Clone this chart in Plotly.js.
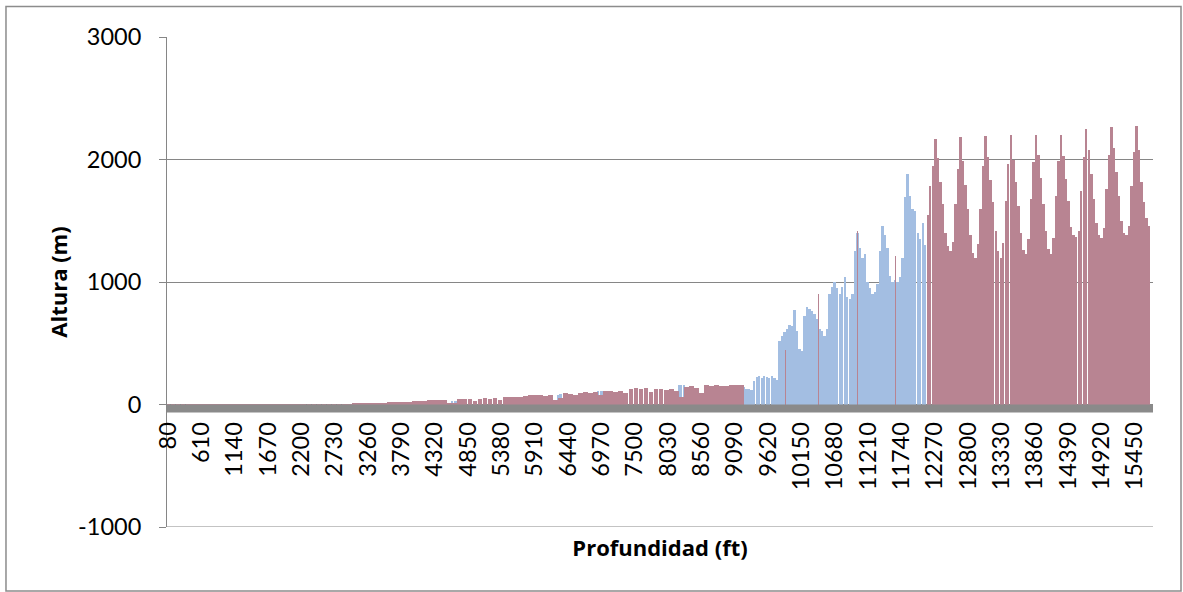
<!DOCTYPE html>
<html>
<head>
<meta charset="utf-8">
<script src="https://cdn.plot.ly/plotly-3.0.1.min.js"></script>
<style>
html,body{margin:0;padding:0;background:#fff;}
#chart{width:1183px;height:592px;}
</style>
</head>
<body>
<div id="chart"></div>
<script>
// ---------- DATA ----------
// Tick labels on the depth axis (ft)
var depthTicks = [80,610,1140,1670,2200,2730,3260,3790,4320,4850,5380,5910,6440,6970,7500,8030,8560,9090,9620,10150,10680,11210,11740,12270,12800,13330,13860,14390,14920,15450];
// Tick labels on the height axis (m)
var heightTicks = [-1000,0,1000,2000,3000];

// Red series, shallow part: depths 80..9200 every 80 ft
var redLowStart = 80, redLowStep = 80;
var redLowVals = [1,2,1,1,2,3,2,1,2,2,3,2,1,2,3,2,2,3,2,3,3,
  3,4,3,4,5,4,5,4,6,5,6,5,
  6,7,8,7,10,9,12,11,14,13,16,18,17,20,24,22,26,25,
  32,35,33,36,38,10,12,42,46,44,30,48,50,46,52,35,60,62,58,64,
  70,76,74,78,72,80,40,50,92,88,75,98,102,96,104,80,108,112,106,114,
  95,128,132,126,134,100,124,130,122,128,110,60,140,148,136,95,158,152,160,155,150,162,156,160];

// Blue series where it shows in the shallow part
var blueLowDepths = [4600,4640,4680,6280,6320,6920,6960,7000,8200,8240,8280,9240,9280,9320,9360];
var blueLowVals   = [26,30,28,78,82,108,112,110,158,162,160,140,130,125,120];

// Blue series, middle part: depths 9400..12200 every 40 ft
var blueMidStart = 9400, blueMidStep = 40;
var blueMidVals = [190,225,235,220,230,225,215,230,220,200,
  520,560,590,620,650,640,770,600,450,440,
  720,800,780,760,740,700,620,600,560,620,
  900,960,1000,950,900,960,1040,880,860,900,
  1250,1400,1280,1200,1230,1000,950,900,920,980,
  1250,1460,1380,1280,1050,1000,1020,1000,1040,1200,
  1690,1880,1700,1600,1580,1400,1350,1480,1300,1280,1400];

// Red bars that rise above the blue in the middle part
var redMidDepths = [9900,10430,11050,11640];
var redMidVals   = [445,900,1420,1210];

// Red series, deep part: depths 12160..15680 every 40 ft
var redHighStart = 12160, redHighStep = 40;
var redHighVals = [1550,1780,1950,2171,
  2010,1820,1640,1400,1290,1250,1330,1640,1920,2180,
  1990,1790,1600,1380,1240,1200,1310,1600,1950,2190,
  2020,1830,1650,1420,1250,1200,1320,1660,1960,2196,
  2000,1820,1620,1400,1260,1230,1350,1680,1980,2200,
  2040,1850,1640,1420,1270,1230,1360,1700,1990,2200,
  2030,1840,1660,1450,1380,1366,1420,1740,2020,2245,
  2080,1880,1680,1480,1380,1360,1440,1760,2040,2264,
  2090,1900,1700,1500,1400,1380,1460,1780,2060,2272,
  2080,1820,1650,1520,1460];

// ---------- BUILD ----------
function seq(start, step, n){ var a=[]; for(var i=0;i<n;i++){a.push(start+i*step);} return a; }

var blueColor = 'rgb(163,190,226)';
var redColor  = 'rgb(184,132,146)';

var traces = [
  {type:'bar', x: blueLowDepths, y: blueLowVals, width: 38, marker:{color:blueColor, line:{width:0}}, showlegend:false},
  {type:'bar', x: seq(blueMidStart, blueMidStep, blueMidVals.length), y: blueMidVals, width: 38, marker:{color:blueColor, line:{width:0}}, showlegend:false},
  {type:'bar', x: seq(redLowStart, redLowStep, redLowVals.length), y: redLowVals, width: 76, marker:{color:redColor, line:{width:0}}, showlegend:false},
  {type:'bar', x: redMidDepths, y: redMidVals, width: 16, marker:{color:redColor, line:{width:0}}, showlegend:false},
  {type:'bar', x: seq(redHighStart, redHighStep, redHighVals.length), y: redHighVals, width: 38, marker:{color:redColor, line:{width:0}}, showlegend:false}
];

var tickFam = 'Lato, "Open Sans", sans-serif';
var titleFam = '"Open Sans", Lato, sans-serif';
var gridC = '#868686';

var layout = {
  width:1183, height:592,
  margin:{l:167, r:30, t:37, b:65, pad:0},
  paper_bgcolor:'#ffffff', plot_bgcolor:'#ffffff',
  barmode:'overlay', bargap:0,
  showlegend:false,
  font:{family:tickFam, color:'#000', size:23},
  xaxis:{
    type:'linear', range:[64,15741],
    anchor:'free', position:0.25,
    showgrid:false, zeroline:false, showline:false,
    ticks:'', tickmode:'array', tickvals: depthTicks, ticktext: depthTicks.map(String),
    tickangle:-90, tickfont:{family:tickFam, size:23.5, color:'#000'},
    ticklabelstandoff: 12,
    title:{text:'Profundidad (ft)', font:{family:titleFam, size:22, color:'#000', weight:'bold'}, standoff:51}
  },
  yaxis:{
    range:[-1000,3000], tickmode:'array', tickvals: heightTicks, ticktext: heightTicks.map(String),
    showgrid:true, gridcolor:gridC, gridwidth:1,
    zeroline:false,
    showline:true, linecolor:gridC, linewidth:1,
    ticks:'outside', ticklen:7, tickcolor:gridC, tickwidth:1,
    tickfont:{family:tickFam, size:23.5, color:'#000'},
    ticklabelstandoff: 13,
    title:{text:'Altura (m)', font:{family:titleFam, size:22, color:'#000', weight:'bold'}, standoff:4}
  },
  shapes:[
    {type:'line', xref:'paper', yref:'y', x0:0, x1:1, y0:-1000, y1:-1000, line:{color:gridC, width:1}, layer:'below'},
    {type:'rect', xref:'paper', yref:'y', x0:0, x1:1, y0:0, y1:-65, fillcolor:'#8a8a8a', line:{width:0}, layer:'above'},
    {type:'rect', xref:'paper', yref:'paper', x0:-0.1633, x1:1.0284, y0:-0.1306, y1:1.0622, fillcolor:'rgba(0,0,0,0)', line:{color:'#8c8c8c', width:1.5}, layer:'above'}
  ]
};

Plotly.newPlot('chart', traces, layout, {displayModeBar:false, staticPlot:true});
</script>
</body>
</html>
